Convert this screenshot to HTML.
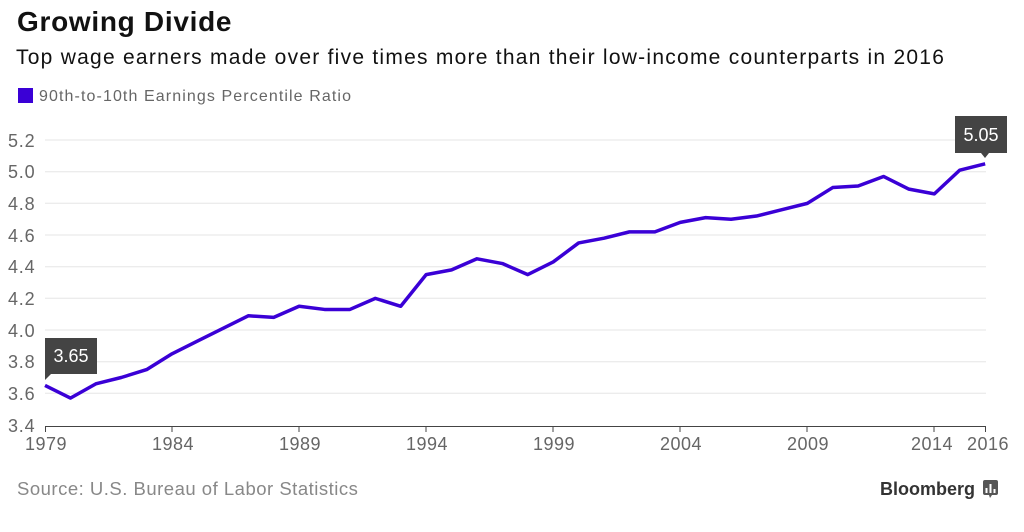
<!DOCTYPE html>
<html><head><style>
body{margin:0;background:#fff;width:1024px;height:527px;overflow:hidden;font-family:"Liberation Sans",sans-serif}
</style></head><body>
<svg width="1024" height="527" xmlns="http://www.w3.org/2000/svg" font-family="Liberation Sans, sans-serif">
<text x="17" y="31" font-size="28" font-weight="bold" fill="#111" letter-spacing="0.7">Growing Divide</text>
<text x="16" y="64" font-size="21" fill="#111" letter-spacing="1.25">Top wage earners made over five times more than their low-income counterparts in 2016</text>
<rect x="18" y="88" width="15" height="15" fill="#3a00d6"/>
<text x="39" y="101" font-size="16" fill="#666" letter-spacing="1.1">90th-to-10th Earnings Percentile Ratio</text>
<g stroke="#e6e6e6" stroke-width="1">
<line x1="45" x2="986" y1="140" y2="140"/><line x1="45" x2="986" y1="171.7" y2="171.7"/>
<line x1="45" x2="986" y1="203.3" y2="203.3"/><line x1="45" x2="986" y1="235" y2="235"/>
<line x1="45" x2="986" y1="266.7" y2="266.7"/><line x1="45" x2="986" y1="298.3" y2="298.3"/>
<line x1="45" x2="986" y1="330" y2="330"/><line x1="45" x2="986" y1="361.7" y2="361.7"/>
<line x1="45" x2="986" y1="393.3" y2="393.3"/>
</g>
<g font-size="18" fill="#666" letter-spacing="0.8">
<text x="8" y="147">5.2</text><text x="8" y="178">5.0</text><text x="8" y="210">4.8</text>
<text x="8" y="242">4.6</text><text x="8" y="273">4.4</text><text x="8" y="305">4.2</text>
<text x="8" y="337">4.0</text><text x="8" y="368">3.8</text><text x="8" y="400">3.6</text>
<text x="8" y="432">3.4</text>
</g>
<line x1="45" x2="986" y1="426.5" y2="426.5" stroke="#444" stroke-width="1"/>
<g stroke="#444"><line x1="45.5" x2="45.5" y1="426" y2="432"/><line x1="172" x2="172" y1="426" y2="432"/>
<line x1="299" x2="299" y1="426" y2="432"/><line x1="426" x2="426" y1="426" y2="432"/>
<line x1="553" x2="553" y1="426" y2="432"/><line x1="680" x2="680" y1="426" y2="432"/>
<line x1="807" x2="807" y1="426" y2="432"/><line x1="934" x2="934" y1="426" y2="432"/>
<line x1="985.5" x2="985.5" y1="426" y2="432"/></g>
<g font-size="18" fill="#666" text-anchor="middle" letter-spacing="0.5">
<text x="46" y="450">1979</text><text x="173" y="450">1984</text><text x="300" y="450">1989</text>
<text x="427" y="450">1994</text><text x="554" y="450">1999</text><text x="681" y="450">2004</text>
<text x="808" y="450">2009</text><text x="932" y="450">2014</text><text x="988" y="450">2016</text>
</g>
<g transform="translate(45,425) scale(25.41,-158.3) translate(-1979,-3.4)">
<polyline fill="none" stroke="#3a00d6" stroke-width="3.5" stroke-linejoin="round" vector-effect="non-scaling-stroke"
points="1979,3.65 1980,3.57 1981,3.66 1982,3.70 1983,3.75 1984,3.85 1985,3.93 1986,4.01 1987,4.09 1988,4.08 1989,4.15 1990,4.13 1991,4.13 1992,4.20 1993,4.15 1994,4.35 1995,4.38 1996,4.45 1997,4.42 1998,4.35 1999,4.43 2000,4.55 2001,4.58 2002,4.62 2003,4.62 2004,4.68 2005,4.71 2006,4.70 2007,4.72 2008,4.76 2009,4.80 2010,4.90 2011,4.91 2012,4.97 2013,4.89 2014,4.86 2015,5.01 2016,5.05"/>
</g>
<rect x="45" y="338" width="52" height="36" fill="#444"/>
<polygon points="45,374 51,374 45,380" fill="#444"/>
<text x="71" y="362" font-size="18" fill="#fff" text-anchor="middle">3.65</text>
<rect x="955" y="116" width="52" height="37" fill="#444"/>
<polygon points="981,153 989,153 985,158" fill="#444"/>
<text x="981" y="141" font-size="18" fill="#fff" text-anchor="middle">5.05</text>
<text x="17" y="495" font-size="18.5" fill="#888" letter-spacing="0.5">Source: U.S. Bureau of Labor Statistics</text>
<text x="975" y="495" font-size="18" font-weight="bold" fill="#333" text-anchor="end">Bloomberg</text>
<rect x="983" y="480" width="15" height="15" rx="2" fill="#555"/>
<polygon points="989,495 992,495 990,498" fill="#555"/>
<g fill="#fff"><rect x="985.5" y="488" width="2" height="5"/><rect x="989.5" y="484" width="2" height="9"/><rect x="993.5" y="489" width="2" height="4"/></g>
</svg>
</body></html>
